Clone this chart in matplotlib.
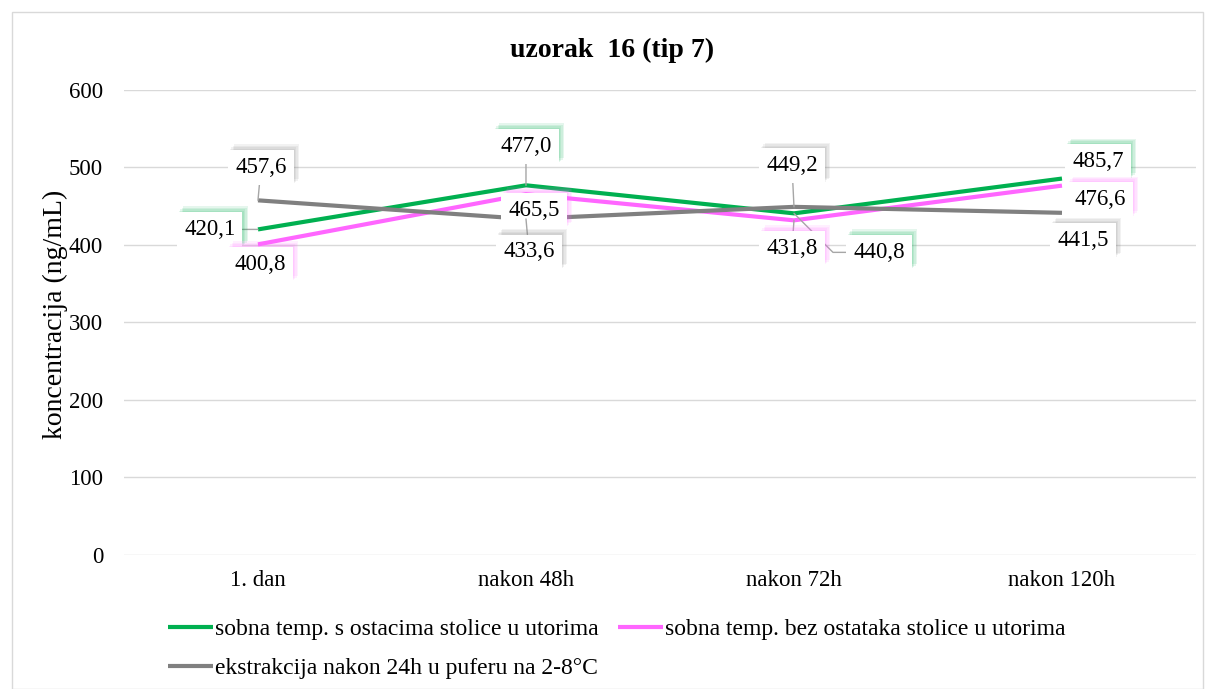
import matplotlib.pyplot as plt
import matplotlib.patheffects as pe
from matplotlib.patches import Rectangle

plt.rcParams["font.family"] = ["Liberation Serif", "DejaVu Serif"]

days = ["1. dan", "nakon 48h", "nakon 72h", "nakon 120h"]
s_ostacima = [420.1, 477.0, 440.8, 485.7]
bez_ostataka = [400.8, 465.5, 431.8, 476.6]
ekstrakcija = [457.6, 433.6, 449.2, 441.5]

names = [
    "sobna temp. s ostacima stolice u utorima",
    "sobna temp. bez ostataka stolice u utorima",
    "ekstrakcija nakon 24h u puferu na 2-8°C",
]
colors = ["#00b050", "#ff66ff", "#808080"]

# label offsets in pixels (dx, dy) and leader line style (None = no line)
offsets = [
    [(-48, 0), (0, 39), (85, -39), (36, 17)],
    [(2, -20), (8, -16), (-2, -28), (38, -14)],
    [(3, 33), (3, -33), (-2, 41), (21, -28)],
]
leaders = [
    ["arc3", "arc3", "angle,angleA=0,angleB=-45,rad=0", None],
    [None, None, "arc3", None],
    ["arc3", "arc3", "arc3", None],
]

fig = plt.figure(figsize=(12.06, 6.89), dpi=100)
fig.patches.append(Rectangle((12 / 1206, 0.0), 1191 / 1206, 677 / 689,
                             transform=fig.transFigure, fill=False,
                             edgecolor="#d9d9d9", linewidth=1))
ax = fig.add_axes([0.1028, 0.1945, 0.8889, 0.6749])

x = list(range(len(days)))
lines = []
for vals, c, lab in zip([s_ostacima, bez_ostataka, ekstrakcija], colors, names):
    ln, = ax.plot(x, vals, color=c, linewidth=3, label=lab, zorder=3,
                  solid_capstyle="butt")
    lines.append(ln)

# soft coloured glow: a few stacked shadows behind each label box
def glow(c):
    effects = [pe.SimplePatchShadow(offset=(k, k), shadow_rgbFace=c, alpha=0.1)
               for k in (4, 3, 2, 1)]
    return effects + [pe.Normal()]

series = [s_ostacima, bez_ostataka, ekstrakcija]
for vals, c, offs, lead in zip(series, colors, offsets, leaders):
    for xi, v, (dx, dy), ld in zip(x, vals, offs, lead):
        txt = f"{v:.1f}".replace(".", ",")
        arrow = None
        if ld:
            arrow = dict(arrowstyle="-", color="#a6a6a6", lw=1,
                         shrinkA=0, shrinkB=0, connectionstyle=ld)
        ann = ax.annotate(
            txt, (xi, v), xytext=(dx, dy), textcoords="offset pixels",
            ha="center", va="center", fontsize=16.5, color="black", zorder=5,
            bbox=dict(boxstyle="square,pad=0.3", fc="white", ec="none"),
            arrowprops=arrow)
        ann.get_bbox_patch().set_path_effects(glow(c))

ax.set_ylim(0, 600)
ax.set_yticks(range(0, 601, 100))
ax.set_xlim(-0.5, 3.5)
ax.set_xticks(x)
ax.set_xticklabels(days)
ax.tick_params(length=0, labelsize=16.5, pad=11)
ax.tick_params(axis="y", pad=15)
ax.grid(axis="y", color="#d9d9d9", linewidth=1)
ax.set_axisbelow(True)
for s in ax.spines.values():
    s.set_visible(False)
ax.set_ylabel("koncentracija (ng/mL)", fontsize=20)
ax.yaxis.set_label_coords(-0.052, 0.518)

fig.text(0.5075, 0.927, "uzorak  16 (tip 7)", ha="center", va="center",
         fontsize=20, fontweight="bold")

fig.legend([lines[0], lines[2], lines[1]], [names[0], names[2], names[1]],
           ncol=2, loc="upper left", bbox_to_anchor=(0.1393, 0.102),
           frameon=False, fontsize=17, handlelength=1.9, handletextpad=0.08,
           columnspacing=0.85, labelspacing=0.73, borderaxespad=0,
           borderpad=0)

fig.savefig("out.png", dpi=100)
